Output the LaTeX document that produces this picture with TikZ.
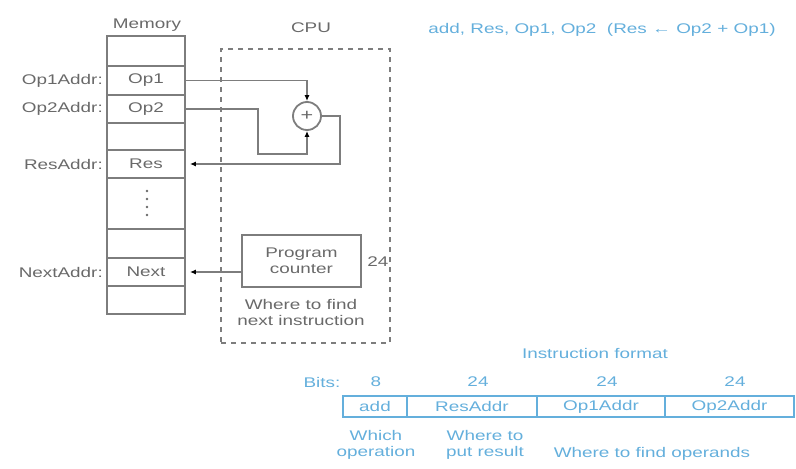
\documentclass[tikz,border=0pt]{standalone}
\usepackage{fontspec}
\setmainfont{Liberation Sans}[FakeStretch=1.35]
\usetikzlibrary{arrows.meta}
\definecolor{lgray}{RGB}{125,125,125}
\definecolor{tgray}{RGB}{105,105,105}
\definecolor{lblue}{RGB}{100,175,220}
\begin{document}
\begin{tikzpicture}[x=1pt,y=-1pt,
  every node/.style={font=\fontsize{14}{16}\selectfont, text=tgray, inner sep=0pt},
  cell/.style={draw=lgray, line width=1.8pt, minimum width=78pt, anchor=center},
  line/.style={draw=lgray, line width=1.8pt},
  arr/.style={line, -{Latex[length=6pt,width=5pt,color=black]}},
  lbl/.style={anchor=east},
  bcell/.style={draw=lblue, line width=1.3pt, minimum height=21pt, text=lblue},
  btxt/.style={text=lblue, align=center}]
\useasboundingbox (0,0) rectangle (796,469);
% memory
\node (memlbl) at (147,25) {Memory};
\node[cell, minimum height=30pt] (m0) at (146,51) {};
\node[cell, minimum height=29pt] (mop1) at (146,80.5) {Op1};
\node[cell, minimum height=28pt] (mop2) at (146,109) {Op2};
\node[cell, minimum height=27pt] (m3) at (146,136.5) {};
\node[cell, minimum height=28pt] (mres) at (146,164) {Res};
\node[cell, minimum height=51pt] (mdots) at (146,203.5) {};
\node[cell, minimum height=29pt] (m6) at (146,243.5) {};
\node[cell, minimum height=28pt] (mnext) at (146,272) {Next};
\node[cell, minimum height=28pt] (m8) at (146,300) {};
\foreach \yy in {191,199,207,215} \fill[tgray] (147,\yy) circle (1.4pt);
\node[lbl] (l1) at (103,80.5) {Op1Addr:};
\node[lbl] (l2) at (103,109) {Op2Addr:};
\node[lbl] (l3) at (103,164) {ResAddr:};
\node[lbl] (l4) at (103,272) {NextAddr:};
% CPU
\node (cpulbl) at (311,28) {CPU};
\node[draw=lgray, line width=1.8pt, dash pattern=on 5pt off 5pt, minimum width=169pt, minimum height=294pt] (cpu) at (305.5,196) {};
\node[draw=lgray, line width=1.8pt, circle, minimum size=28pt] (add) at (307,116) {\fontsize{16}{16}\selectfont +};
\draw[arr] (mop1.east) -| (add.north);
\draw[arr] (mop2.east) -- (258,109) -- (258,154) -| (add.south);
\draw[arr, shorten >=4pt] (add.east) -- (340,116) |- (mres.east);
\node[draw=lgray, line width=1.8pt, minimum width=119pt, minimum height=52pt, align=center] (pc) at (301.5,261) {Program\\counter};
\node (pcbits) at (378,262) {24};
\node[align=center] (pcnote) at (301,312) {Where to find\\next instruction};
\draw[arr, shorten >=4pt] (pc.west |- mnext.east) -- (mnext.east);
% instruction
\node[btxt] (asm) at (602,30) {add, Res, Op1, Op2\ \ (Res ← Op2 + Op1)};
\node[btxt] (ifmt) at (595,353) {Instruction format};
\node[btxt] (bits) at (322,382) {Bits:};
\node[btxt] (b1) at (376,382) {8};
\node[btxt] (b2) at (478,382) {24};
\node[btxt] (b3) at (607,382) {24};
\node[btxt] (b4) at (735,382) {24};
\node[bcell, minimum width=64pt] (f1) at (375,406.5) {add};
\node[bcell, minimum width=130pt] (f2) at (472,406.5) {ResAddr};
\node[bcell, minimum width=128pt] (f3) at (601,406.5) {Op1Addr};
\node[bcell, minimum width=129pt] (f4) at (729.5,406.5) {Op2Addr};
\node[btxt] (d1) at (376,445) {Which\\operation};
\node[btxt] (d2) at (485,445) {Where to\\put result};
\node[btxt] (d3) at (652,454) {Where to find operands};
\end{tikzpicture}
\end{document}
